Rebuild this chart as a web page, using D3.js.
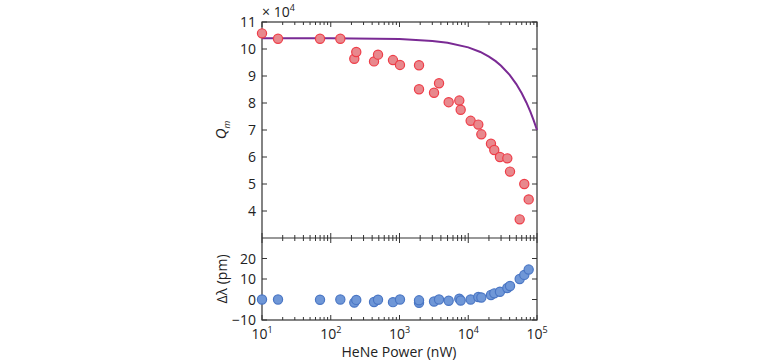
<!DOCTYPE html>
<html>
<head>
<meta charset="utf-8">
<script src="https://cdn.jsdelivr.net/npm/d3@7"></script>
<style>
  body { margin: 0; background: #fff; }
  text { font-family: "Open Sans", "Noto Sans", sans-serif; fill: #222; }
</style>
</head>
<body>
<svg width="763" height="361"></svg>
<script>
// HeNe power (nW) for each measurement
let power = [10, 17.1, 69.8, 137.8, 220, 235, 426, 487, 804, 1016, 1923, 1923, 3178, 3758, 5190, 7410, 7760,
  10840, 14000, 15500, 21400, 23900, 28900, 37000, 40500, 56000, 65300, 75700]
// Qm in units of 1e4
let qm = [10.58, 10.38, 10.38, 10.38, 9.64, 9.89, 9.54, 9.79, 9.59, 9.41, 9.40, 8.51, 8.38, 8.73, 8.03, 8.09, 7.75,
  7.34, 7.20, 6.84, 6.49, 6.26, 6.00, 5.95, 5.46, 3.69, 5.00, 4.43]
// wavelength shift (pm)
let shift = [0, 0, -0.1, 0, -1.5, -0.2, -1.2, -0.1, -1.3, 0, -1.6, -0.4, -1.0, 0, -0.6, 0.4, -0.5,
  0, 1.2, 1.0, 2.2, 3.0, 3.8, 5.6, 6.6, 10.0, 12.0, 14.6]

// model curve
let fitP = [10, 100, 1000, 3000, 5000, 10000, 15000, 20000, 25000, 30000, 40000, 50000, 60000, 70000, 80000, 90000, 100000]
let fitQ = [10.40, 10.40, 10.37, 10.30, 10.23, 10.06, 9.89, 9.72, 9.55, 9.38, 9.04, 8.70, 8.36, 8.02, 7.68, 7.34, 7.00]

let qTicks = [4, 5, 6, 7, 8, 9, 10, 11]
let dTicks = [-10, 0, 10, 20]
let xTicks = [10, 100, 1000, 10000, 100000]

let svg = d3.select("svg")
let left = 262, right = 537
let x = d3.scaleLog().domain([10, 1e5]).range([left, right])
let yq = d3.scaleLinear().domain([3, 11]).range([238, 22])
let yd = d3.scaleLinear().domain([-10, 30]).range([320, 238])

let minor = []
for (let k = 1; k < 5; k++) {
  for (let m = 2; m < 10; m++) minor.push(m * Math.pow(10, k))
}

let axisColor = "#333"

function logTicks(yPos, dir) {
  let g = svg.append("g")
  g.selectAll(".maj").data(xTicks).enter().append("line")
    .attr("x1", d => x(d)).attr("x2", d => x(d))
    .attr("y1", yPos).attr("y2", yPos + dir * 5)
    .attr("stroke", axisColor)
  g.selectAll(".min").data(minor).enter().append("line")
    .attr("x1", d => x(d)).attr("x2", d => x(d))
    .attr("y1", yPos).attr("y2", yPos + dir * 3)
    .attr("stroke", axisColor)
}

function yTicks(scale, vals) {
  let g = svg.append("g")
  g.selectAll(".l").data(vals).enter().append("line")
    .attr("x1", left).attr("x2", left + 5)
    .attr("y1", d => scale(d)).attr("y2", d => scale(d))
    .attr("stroke", axisColor)
  g.selectAll(".r").data(vals).enter().append("line")
    .attr("x1", right).attr("x2", right - 5)
    .attr("y1", d => scale(d)).attr("y2", d => scale(d))
    .attr("stroke", axisColor)
  g.selectAll("text").data(vals).enter().append("text")
    .attr("x", left - 6).attr("y", d => scale(d) + 5)
    .attr("text-anchor", "end")
    .attr("font-size", "14px")
    .text(d => d < 0 ? "\u2212" + Math.abs(d) : d)
}

// frame
svg.append("rect").attr("x", left).attr("y", 22).attr("width", right - left).attr("height", 298)
  .attr("fill", "none").attr("stroke", axisColor).attr("stroke-width", 1.2)
svg.append("line").attr("x1", left).attr("x2", right).attr("y1", 238).attr("y2", 238)
  .attr("stroke", axisColor).attr("stroke-width", 1.2)

logTicks(22, 1)
logTicks(238, -1)
logTicks(238, 1)
logTicks(320, -1)
yTicks(yq, qTicks)
yTicks(yd, dTicks)

// x tick labels
let xl = svg.append("g").selectAll("text").data(xTicks).enter().append("text")
  .attr("x", d => x(d)).attr("y", 339)
  .attr("text-anchor", "middle")
  .attr("font-size", "14px")
xl.append("tspan").text("10")
xl.append("tspan").attr("dy", -6).attr("font-size", "9px").text(d => Math.round(Math.log10(d)))

svg.append("text").attr("x", 399).attr("y", 357).attr("text-anchor", "middle")
  .attr("font-size", "14px").text("HeNe Power (nW)")

let ex = svg.append("text").attr("x", 262).attr("y", 17).attr("font-size", "14px")
ex.append("tspan").text("\u00d7 10")
ex.append("tspan").attr("dy", -6).attr("font-size", "9px").text("4")

let ql = svg.append("text").attr("transform", "translate(226,130) rotate(-90)")
  .attr("text-anchor", "middle").attr("font-size", "15px")
ql.append("tspan").attr("font-style", "italic").text("Q")
ql.append("tspan").attr("dy", 4).attr("font-size", "9px").attr("font-style", "italic").text("m")

svg.append("text").attr("transform", "translate(227,279) rotate(-90)")
  .attr("text-anchor", "middle").attr("font-size", "14px").text("\u0394\u03bb (pm)")

// fit line
let line = d3.line().x(d => x(d[0])).y(d => yq(d[1]))
svg.append("path").datum(fitP.map((p, i) => [p, fitQ[i]]))
  .attr("d", line).attr("fill", "none").attr("stroke", "#7a2a94").attr("stroke-width", 2)

// red points
svg.append("g").selectAll("circle").data(power).enter().append("circle")
  .attr("cx", d => x(d)).attr("cy", (d, i) => yq(qm[i])).attr("r", 4.6)
  .attr("fill", "#e8888d").attr("stroke", "#ee3d48").attr("stroke-width", 1.2)

// blue points
svg.append("g").selectAll("circle").data(power).enter().append("circle")
  .attr("cx", d => x(d)).attr("cy", (d, i) => yd(shift[i])).attr("r", 4.6)
  .attr("fill", "#6f97d7").attr("stroke", "#4a76c4").attr("stroke-width", 1.2)
</script>
</body>
</html>
